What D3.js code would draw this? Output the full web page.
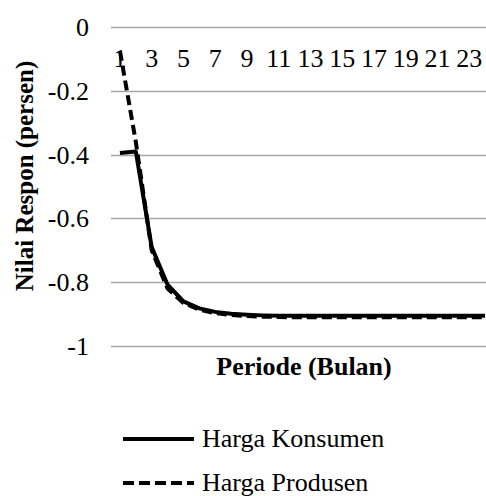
<!DOCTYPE html>
<html>
<head>
<meta charset="utf-8">
<script src="https://cdn.jsdelivr.net/npm/d3@7"></script>
<style>
  html, body { margin: 0; padding: 0; background: #fff; }
  svg { display: block; }
</style>
</head>
<body>
<svg id="chart" width="486" height="496"></svg>
<script>
const periods = d3.range(1, 25);
const tickLabels = periods.filter(p => p % 2 === 1);
const yTicks = [0, -0.2, -0.4, -0.6, -0.8, -1];
const hargaKonsumen = [-0.395, -0.39, -0.69, -0.808, -0.86, -0.882, -0.893, -0.899, -0.902, -0.904, -0.905, -0.905, -0.905, -0.905, -0.905, -0.905, -0.905, -0.905, -0.905, -0.905, -0.905, -0.905, -0.905, -0.905];
const hargaProdusen = [-0.075, -0.36, -0.70, -0.82, -0.865, -0.886, -0.897, -0.903, -0.906, -0.908, -0.909, -0.91, -0.91, -0.91, -0.91, -0.91, -0.91, -0.91, -0.91, -0.91, -0.91, -0.91, -0.91, -0.91];
const seriesNames = ["Harga Konsumen", "Harga Produsen"];

const FONT = "Times New Roman";
const svg = d3.select("#chart");
const x = d3.scaleBand().domain(periods).range([112, 493]).padding(0);
const y = d3.scaleLinear().domain([-1, 0]).range([346, 27]);
const cx = d => x(d) + x.bandwidth() / 2;

// gridlines
svg.append("g").selectAll("line").data(yTicks).join("line")
  .attr("x1", 111).attr("x2", 486)
  .attr("y1", d => Math.round(y(d)) + 0.5).attr("y2", d => Math.round(y(d)) + 0.5)
  .attr("stroke", "#a6a6a6").attr("stroke-width", 1.3);

// y tick labels
svg.append("g").selectAll("text").data(yTicks).join("text")
  .attr("x", 89).attr("y", d => y(d) + 9)
  .attr("text-anchor", "end")
  .attr("font-family", FONT).attr("font-size", 26)
  .text(d => String(d));

// x tick labels
svg.append("g").selectAll("text").data(tickLabels).join("text")
  .attr("x", d => cx(d)).attr("y", 67)
  .attr("text-anchor", "middle")
  .attr("font-family", FONT).attr("font-size", 26)
  .text(d => d);

// lines
const line = d3.line().x((d, i) => cx(periods[i])).y(d => y(d));
svg.append("path").datum(hargaKonsumen).attr("d", line)
  .attr("fill", "none").attr("stroke", "#000").attr("stroke-width", 4).attr("stroke-linejoin", "round");
svg.append("path").datum(hargaProdusen).attr("d", line)
  .attr("fill", "none").attr("stroke", "#000").attr("stroke-width", 4)
  .attr("stroke-dasharray", "10,5");

// axis titles
svg.append("text")
  .attr("transform", "translate(33,176) rotate(-90)")
  .attr("text-anchor", "middle")
  .attr("font-family", FONT).attr("font-size", 25).attr("font-weight", "bold")
  .text("Nilai Respon (persen)");
svg.append("text")
  .attr("x", 304).attr("y", 375)
  .attr("text-anchor", "middle")
  .attr("font-family", FONT).attr("font-size", 26).attr("font-weight", "bold")
  .text("Periode (Bulan)");

// legend
const legend = svg.append("g");
const ly = [439, 483];
seriesNames.forEach((name, i) => {
  legend.append("line")
    .attr("x1", 123).attr("x2", 194).attr("y1", ly[i]).attr("y2", ly[i])
    .attr("stroke", "#000").attr("stroke-width", 4)
    .attr("stroke-dasharray", i === 1 ? "11,5" : null);
  legend.append("text")
    .attr("x", 202).attr("y", ly[i] + 8)
    .attr("font-family", FONT).attr("font-size", 26)
    .text(name);
});
</script>
</body>
</html>
